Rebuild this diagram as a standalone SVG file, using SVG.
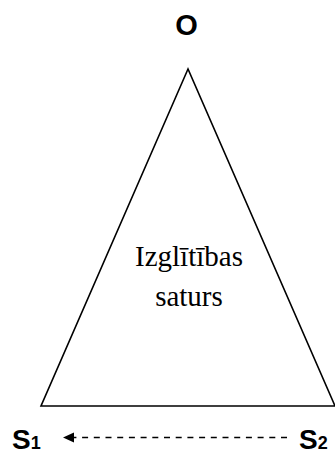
<svg xmlns="http://www.w3.org/2000/svg" width="335" height="455" viewBox="0 0 335 455">
<style>
.lbl{font-family:"Liberation Sans",Arial,sans-serif;font-weight:bold;fill:#000}
.body{font-family:"Liberation Serif","Times New Roman",serif;font-size:29px;fill:#000}
</style>
<rect width="335" height="455" fill="#fff"/>
<g id="triangle">
<polygon points="188,69 41,406 335,406" fill="none" stroke="#000" stroke-width="1.6"/>
<text class="body" x="189" y="266" text-anchor="middle">Izglītības</text>
<text class="body" x="189" y="306" text-anchor="middle">saturs</text>
</g>
<g id="nodeO"><text class="lbl" x="186.5" y="35" font-size="29" text-anchor="middle">O</text></g>
<g id="nodeS1"><text class="lbl" x="12" y="449" font-size="28">S<tspan font-size="18">1</tspan></text></g>
<g id="nodeS2"><text class="lbl" x="299" y="449" font-size="28">S<tspan font-size="18">2</tspan></text></g>
<g id="connectors">
<line x1="287" y1="437.5" x2="70" y2="437.5" stroke="#000" stroke-width="1.3" stroke-dasharray="6,5.7"/>
<path d="M63,437.5 L74,432.5 L74,442.5 Z" fill="#000"/>
</g>
</svg>
